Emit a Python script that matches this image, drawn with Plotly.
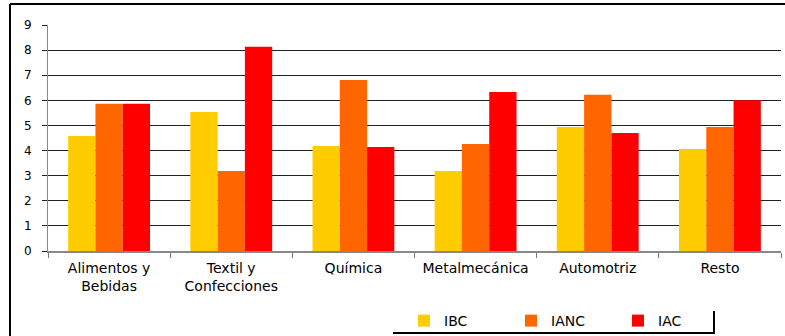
import plotly.graph_objects as go

# Sectors and index values per series
sectores = ["Alimentos y<br>Bebidas", "Textil y<br>Confecciones", "Química",
            "Metalmecánica", "Automotriz", "Resto"]
ibc = [4.58, 5.54, 4.18, 3.19, 4.94, 4.06]
ianc = [5.86, 3.19, 6.81, 4.26, 6.22, 4.94]
iac = [5.86, 8.13, 4.14, 6.33, 4.70, 6.00]

series = [("IBC", ibc, "#FFCC00"), ("IANC", ianc, "#FF6600"), ("IAC", iac, "#FF0000")]

fig = go.Figure()
for nombre, valores, color in series:
    fig.add_trace(go.Bar(x=sectores, y=valores, name=nombre,
                         marker=dict(color=color, line=dict(width=0))))

W, H = 785, 336
ML, MR, MT, MB = 48, 4, 25, 85
fig.update_layout(
    width=W, height=H,
    margin=dict(l=ML, r=MR, t=MT, b=MB, autoexpand=False),
    paper_bgcolor="white", plot_bgcolor="white",
    barmode="group", bargap=0.33, bargroupgap=0,
    font=dict(family="DejaVu Sans, Liberation Sans, Arial, sans-serif", color="black", size=14),
    showlegend=True,
    legend=dict(orientation="h", xref="container", yref="container",
                x=404 / W, xanchor="left", y=1 - 321 / H, yanchor="middle",
                font=dict(size=14), entrywidth=62, entrywidthmode="pixels",
                itemwidth=30, bgcolor="rgba(0,0,0,0)", traceorder="normal"),
    xaxis=dict(showgrid=False, showline=True, linecolor="#888", linewidth=2,
               ticks="outside", tickson="boundaries", ticklen=5, tickcolor="#777",
               tickangle=0, tickfont=dict(size=14), ticklabelstandoff=3),
    yaxis=dict(range=[0, 9], dtick=1, showgrid=True, gridcolor="#222", gridwidth=1,
               zeroline=False, showline=True, linecolor="#888", linewidth=1,
               ticks="outside", ticklen=5, tickcolor="#222",
               tickfont=dict(size=12), ticklabelstandoff=8),
)

# Chart frame (top and left edges) and legend shadow lines, in pixel positions
frame = dict(type="line", xref="paper", yref="paper", line=dict(color="black", width=2))
def px(x):
    return (x - ML) / (W - ML - MR)
def py(y):
    return (H - MB - y) / (H - MT - MB)
fig.add_shape(**frame, x0=px(10), y0=py(4), x1=px(786), y1=py(4))
fig.add_shape(**frame, x0=px(10), y0=py(4), x1=px(10), y1=py(337))
fig.add_shape(**frame, x0=px(393), y0=py(333), x1=px(715), y1=py(333))
fig.add_shape(**frame, x0=px(714), y0=py(311), x1=px(714), y1=py(334))

fig.write_html("out.html")
